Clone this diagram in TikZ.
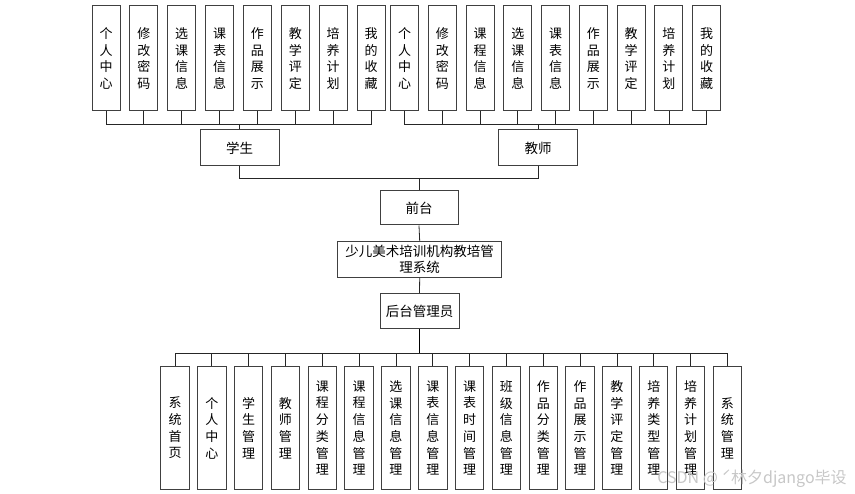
\documentclass[tikz,border=0pt]{standalone}
\usepackage{fontspec}
\setmainfont{Noto Sans CJK SC}
\newfontfamily\wmfont{Noto Sans CJK SC}
\newcommand\vtext[1]{\vtA#1\vtEnd}
\def\vtA#1#2\vtEnd{#1\ifx\relax#2\relax\else\\\vtA#2\vtEnd\fi}
\begin{document}
\begin{tikzpicture}[x=1pt,y=-1pt,
  box/.style={draw=black!75,line width=1pt,fill=white,inner sep=0pt,align=center,
    font=\fontsize{13}{16.7}\selectfont},
  topbox/.style={box,minimum width=28pt,minimum height=105pt},
  botbox/.style={box,minimum width=28.4pt,minimum height=122.6pt},
  midbox/.style={box,minimum width=79pt,minimum height=36pt,font=\fontsize{13.5}{16}\selectfont},
  link/.style={draw=black!85,line width=0.8pt},
  thick link/.style={draw=black,line width=1.5pt}]
\useasboundingbox (0,0) rectangle (855,494);
% student leaves
\foreach \t [count=\i] in {个人中心,修改密码,选课信息,课表信息,作品展示,教学评定,培养计划,我的收藏}{
  \node[topbox] (s\i) at ({106+(\i-1)*37.86},58.5) {\expandafter\vtext\expandafter{\t}};
}
% teacher leaves
\foreach \t [count=\i] in {个人中心,修改密码,课程信息,选课信息,课表信息,作品展示,教学评定,培养计划,我的收藏}{
  \node[topbox] (t\i) at ({404.5+(\i-1)*37.78},58.5) {\expandafter\vtext\expandafter{\t}};
}
\node[midbox] (student) at (239.5,148) {学生};
\node[midbox] (teacher) at (538,148) {教师};
\node[midbox,minimum width=78pt,minimum height=34pt] (front) at (419,208) {前台};
\node[midbox,minimum width=164pt,minimum height=36pt] (sys) at (419.7,259.5) {少儿美术培训机构教培管\\理系统};
\node[midbox,minimum height=35pt] (admin) at (419.5,311) {后台管理员};
% bottom leaves
\foreach \t [count=\i] in {系统首页,个人中心,学生管理,教师管理,课程分类管理,课程信息管理,选课信息管理,课表信息管理,课表时间管理,班级信息管理,作品分类管理,作品展示管理,教学评定管理,培养类型管理,培养计划管理,系统管理}{
  \node[botbox] (b\i) at ({175+(\i-1)*36.83},428) {\expandafter\vtext\expandafter{\t}};
}
% connectors
\coordinate (sbus) at (239.5,124);
\coordinate (tbus) at (538,124);
\coordinate (fbus) at (419,178);
\coordinate (abus) at (419.5,353.3);
\foreach \i in {1,...,8}{\draw[link] (s\i.south) |- (sbus);}
\foreach \i in {1,...,9}{\draw[link] (t\i.south) |- (tbus);}
\draw[link] (sbus) -- (student.north);
\draw[link] (tbus) -- (teacher.north);
\draw[link] (student.south) |- (fbus);
\draw[link] (teacher.south) |- (fbus);
\draw[link] (fbus) -- (front.north);
\draw[link] (front.south) -- (sys.north);
\draw[link] (sys.south) -- (admin.north);
\draw[thick link] (admin.south) -- (abus);
\foreach \i in {1,...,16}{\draw[link] (b\i.north) |- (abus);}
% watermark
\node[text=black!22,font=\wmfont\fontsize{16}{18}\selectfont,inner sep=0pt] (wm) at (752,479) {CSDN @ ˊ林夕django毕设};
\end{tikzpicture}
\end{document}
